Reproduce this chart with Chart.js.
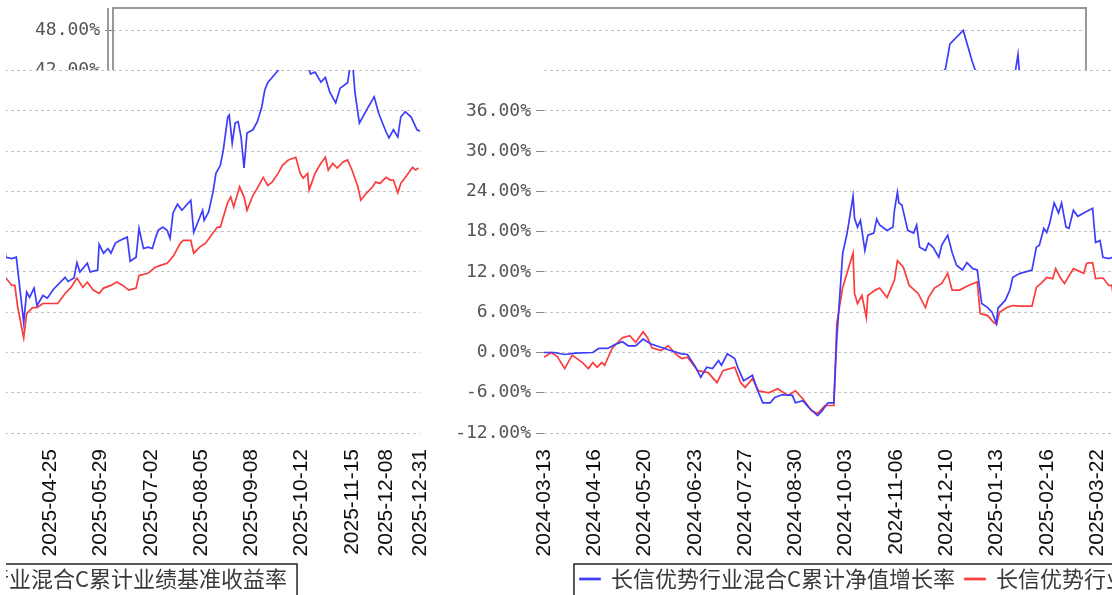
<!DOCTYPE html>
<html>
<head>
<meta charset="utf-8">
<script src="https://cdn.jsdelivr.net/npm/chart.js@4.4.1/dist/chart.umd.min.js"></script>
<style>
  html, body { margin: 0; padding: 0; background: #fff; }
  #stage { position: relative; width: 1112px; height: 595px; overflow: hidden; background: #fff; }
  .view { position: absolute; overflow: hidden; background: #fff; }
  .view canvas { position: absolute; width: 1112px; height: 600px; }
</style>
</head>
<body>
<div id="stage">
  <div class="view" style="left:0;top:0;width:1112px;height:70px">
    <canvas id="topChart" width="1112" height="600" style="left:0;top:0"></canvas>
  </div>
  <div class="view" style="left:6px;top:70px;width:424px;height:525px">
    <canvas id="leftChart" width="1112" height="600" style="left:-672px;top:-70px"></canvas>
  </div>
  <div class="view" style="left:430px;top:70px;width:682px;height:525px">
    <canvas id="rightChart" width="1112" height="600" style="left:1px;top:-70px"></canvas>
  </div>
</div>
<script>
const startDate = "2024-03-13";
const tickDates = ["2024-03-13", "2024-04-16", "2024-05-20", "2024-06-23", "2024-07-27", "2024-08-30",
  "2024-10-03", "2024-11-06", "2024-12-10", "2025-01-13", "2025-02-16", "2025-03-22", "2025-04-25",
  "2025-05-29", "2025-07-02", "2025-08-05", "2025-09-08", "2025-10-12", "2025-11-15", "2025-12-08", "2025-12-31"];
const yTicks = [-12, -6, 0, 6, 12, 18, 24, 30, 36, 42, 48];

const seriesNames = ["长信优势行业混合C累计净值增长率", "长信优势行业混合C累计业绩基准收益率"];

// days since startDate, values in %
const navDays = [0, 7, 14, 21, 33, 37, 43, 48, 53, 57, 62, 67, 72, 76, 84, 93, 97, 102, 106, 110, 114, 118, 120,
  124, 129, 131, 135, 141, 144, 148, 153, 156, 161, 168, 170, 175, 179, 185, 188, 192, 196, 198, 202, 205, 209,
  210, 212, 214, 217, 219, 223, 225, 227, 232, 236, 237, 239, 240, 242, 246, 250, 252, 254, 258, 260, 263, 267,
  269, 273, 276, 279, 283, 286, 290, 293, 296, 300, 303, 306, 307, 312, 315, 317, 322, 330, 333, 335, 338, 340,
  342, 345, 348, 350, 353, 355, 358, 361, 365, 371, 373, 376,
  378, 382, 385, 390, 392, 394, 397, 399, 403, 406, 410, 418, 420, 424, 426, 428, 433, 435, 440, 441, 444, 447,
  449, 452, 455, 460, 462, 466, 468, 471, 474, 477, 479, 481, 484, 487, 489, 491, 494, 497, 503, 505, 507, 511,
  512, 515, 518, 520, 523, 525, 528, 529, 531, 533, 535, 537, 539, 541, 545, 548, 551, 553, 555, 558, 563, 566,
  575, 581, 584, 587, 591, 594, 597, 601, 604, 609, 612, 614, 617, 622, 627, 630, 635, 637, 640, 643, 645, 648,
  652, 656, 658];
const navGrowth = [0, 0, -0.3, -0.1, 0, 0.6, 0.6, 1.2, 1.6, 1.0, 1.0, 2.0, 1.3, 1.0, 0.4, -0.2, -0.3, -2.0, -3.7,
  -2.2, -2.4, -1.2, -1.9, -0.2, -0.9, -2.2, -4.2, -3.4, -5.4, -7.5, -7.5, -6.7, -6.3, -6.4, -7.5, -7.2, -8.2,
  -9.4, -8.7, -7.5, -7.5, 2.0, 14.8, 17.8, 23.3, 20.0, 18.7, 19.7, 15.2, 17.5, 17.8, 19.9, 19.0, 18.2, 18.7, 21.2,
  23.9, 22.3, 22.0, 18.2, 17.8, 19.0, 15.7, 15.2, 16.3, 15.7, 14.2, 16.0, 17.5, 14.9, 13.0, 12.3, 13.4, 12.5,
  12.3, 7.3, 6.7, 6.0, 4.3, 6.6, 7.8, 9.3, 11.2, 11.8, 12.3, 15.7, 16.0, 18.5, 17.9, 19.3, 22.3, 20.8, 22.3,
  18.7, 18.5, 21.2, 20.3, 20.8, 21.5, 16.4, 16.7,
  14.2, 14.0, 14.2, 4.5, 9.0, 8.2, 9.6, 7.0, 8.5, 8.1, 9.4, 11.2, 10.6, 11.1, 13.4, 12.0, 13.3, 12.0, 12.3, 16.1,
  14.8, 15.5, 14.8, 16.3, 16.7, 17.2, 13.6, 14.2, 18.5, 15.5, 15.7, 15.5, 17.0, 18.2, 18.7, 18.2, 17.0, 20.8,
  22.1, 21.2, 22.7, 17.9, 19.0, 21.2, 19.7, 20.9, 23.9, 26.7, 27.9, 30.2, 35.1, 35.4, 31.2, 34.2, 34.4, 32.1,
  27.5, 32.7, 33.2, 34.4, 36.6, 39.1, 40.2, 41.0, 42.3, 46.0, 48.0, 43.4, 41.5, 41.8, 40.3, 41.0, 38.8, 37.2,
  39.4, 40.2, 44.4, 38.8, 34.2, 36.2, 38.1, 35.7, 32.9, 32.0, 33.2, 32.1, 35.1, 35.9, 35.1, 33.2, 33.0];

const benchDays = [0, 5, 9, 14, 19, 26, 30, 33, 36, 39, 41, 46, 49, 53, 58, 62, 67, 70, 73, 79, 84, 89, 93, 97,
  104, 111, 117, 121, 129, 133, 136, 141, 145, 152, 158, 165, 170, 175, 181, 185, 190, 196, 198, 202, 209, 210,
  212, 215, 218, 219, 224, 227, 232, 237, 239, 243, 247, 253, 258, 260, 264, 269, 273, 276, 281, 287, 293, 295,
  300, 304, 306, 308, 313, 317, 322, 330, 333, 337, 340, 344, 346, 349, 352, 358, 365, 367, 371, 373,
  378, 382, 384, 386, 390, 392, 396, 399, 403, 408, 413, 418, 422, 426, 430, 433, 437, 441, 444, 449, 453, 457,
  461, 466, 468, 474, 479, 484, 487, 491, 496, 498, 503, 505, 509, 513, 518, 521, 523, 525, 528, 530, 532, 536,
  539, 541, 545, 548, 552, 555, 558, 562, 565, 569, 574, 577, 579, 582, 583, 587, 591, 594, 596, 599, 602, 606,
  609, 612, 616, 618, 622, 626, 628, 631, 635, 638, 640, 643, 645, 649, 653, 655, 657];
const benchReturn = [-0.7, 0, -0.6, -2.4, -0.4, -1.5, -2.4, -1.5, -2.2, -1.5, -1.9, 0.6, 1.3, 2.2, 2.5, 1.5, 3.1,
  2.2, 0.7, 0.3, 1.0, -0.2, -0.9, -0.7, -2.7, -3.0, -4.5, -2.7, -2.2, -4.5, -5.2, -3.9, -5.7, -6.0, -5.4, -6.4,
  -5.7, -6.9, -8.7, -9.1, -7.9, -7.9, 4.3, 9.7, 14.8, 8.8, 7.3, 8.5, 5.2, 8.5, 9.3, 9.6, 8.2, 10.8, 13.7, 12.7,
  10.0, 8.8, 6.7, 8.2, 9.6, 10.3, 11.8, 9.3, 9.3, 10.0, 10.5, 5.8, 5.5, 4.5, 4.2, 6.0, 6.7, 7.0, 6.9, 6.9, 9.7,
  10.5, 11.2, 11.0, 12.5, 11.2, 10.3, 12.5, 11.8, 13.3, 13.4, 11.0,
  11.1, 10.0, 10.0, 6.7, 2.2, 5.8, 6.7, 6.7, 7.3, 7.3, 7.3, 8.8, 9.7, 11.1, 9.7, 10.5, 9.3, 8.8, 9.6, 10.0, 10.5,
  10.0, 9.3, 9.6, 11.5, 11.8, 12.7, 13.1, 13.3, 14.3, 16.3, 16.7, 16.7, 14.8, 15.7, 16.3, 17.8, 18.7, 18.7, 20.2,
  22.4, 23.2, 21.7, 24.7, 23.2, 21.2, 23.4, 24.5, 26.1, 24.9, 25.4, 26.7, 27.9, 28.7, 29.1, 26.7, 26.0, 26.7,
  24.2, 26.7, 28.2, 29.1, 27.2, 28.2, 27.5, 28.4, 28.7, 27.2, 24.7, 22.7, 23.8, 24.7, 25.4, 25.2, 26.1, 25.7,
  25.7, 23.8, 25.2, 26.4, 27.6, 27.2, 27.5];

const DAY = 86400000;
const dayOf = (s) => Math.round((Date.parse(s) - Date.parse(startDate)) / DAY);
const dateOf = (d) => new Date(Date.parse(startDate) + d * DAY).toISOString().slice(0, 10);
const tickDays = tickDates.map(dayOf);
const lastDay = tickDays[tickDays.length - 1];

const gridColor = "#c4c4c4";

const framePlugin = {
  id: "frame",
  afterDraw(chart, args, opts) {
    if (!opts.show) return;
    const { ctx, chartArea: a } = chart;
    ctx.save();
    ctx.strokeStyle = "#999";
    ctx.lineWidth = 2;
    ctx.strokeRect(a.left, a.top, a.right - a.left, a.bottom - a.top);
    ctx.beginPath();
    ctx.moveTo(a.left - 5, a.top);
    ctx.lineTo(a.left - 5, a.bottom);
    ctx.stroke();
    ctx.restore();
  },
};

const legendBox = {
  id: "legendBox",
  afterDraw(chart) {
    const boxes = chart.legend.legendHitBoxes;
    if (!boxes || !boxes.length) return;
    const first = boxes[0];
    const last = boxes[boxes.length - 1];
    const x0 = first.left - 6;
    const x1 = last.left + last.width + 10;
    const { ctx } = chart;
    ctx.save();
    ctx.strokeStyle = "#222";
    ctx.lineWidth = 1.5;
    ctx.strokeRect(x0, first.top - 4, x1 - x0, 60);
    ctx.restore();
  },
};

function makeChart(id, withFrame, labelCeiling) {
  return new Chart(document.getElementById(id), {
    type: "line",
    data: {
      datasets: [
        {
          label: seriesNames[0],
          data: navDays.map((d, i) => ({ x: d, y: navGrowth[i] })),
          borderColor: "rgb(60, 60, 250)",
          backgroundColor: "rgb(60, 60, 250)",
          borderWidth: 1.7,
          pointRadius: 0,
          tension: 0,
        },
        {
          label: seriesNames[1],
          data: benchDays.map((d, i) => ({ x: d, y: benchReturn[i] })),
          borderColor: "rgb(250, 60, 60)",
          backgroundColor: "rgb(250, 60, 60)",
          borderWidth: 1.7,
          pointRadius: 0,
          tension: 0,
        },
      ],
    },
    options: {
      responsive: false,
      animation: false,
      layout: { padding: { left: 16, top: 8, right: 26, bottom: 0 } },
      plugins: {
        tooltip: { enabled: false },
        frame: { show: withFrame },
        legend: {
          position: "bottom",
          labels: {
            boxWidth: 20,
            boxHeight: 1,
            padding: 10,
            color: "#3a3a3a",
            font: { family: "'Noto Sans CJK SC'", size: 22 },
          },
        },
      },
      scales: {
        x: {
          type: "linear",
          min: 0,
          max: lastDay,
          grid: { display: false },
          border: { display: false },
          afterBuildTicks: (scale) => {
            scale.ticks = tickDays.map((v) => ({ value: v }));
          },
          afterFit: (scale) => {
            scale.height = 125;
            scale.paddingLeft = 0;
            scale.paddingRight = 0;
          },
          ticks: {
            autoSkip: false,
            minRotation: 90,
            maxRotation: 90,
            padding: 8,
            color: "#111",
            font: { family: "'Liberation Sans'", size: 21 },
            callback: (v) => dateOf(v),
          },
        },
        y: {
          min: -12,
          max: 51.35,
          grid: {
            color: gridColor,
            lineWidth: 1,
            tickLength: 8,
            tickColor: (c) => (c.tick && c.tick.value <= labelCeiling ? "#888" : "rgba(0,0,0,0)"),
            tickBorderDash: [],
          },
          border: { display: false, dash: [3, 3] },
          afterBuildTicks: (scale) => {
            scale.ticks = yTicks.map((v) => ({ value: v }));
          },
          afterFit: (scale) => {
            scale.width = 97;
            scale.paddingTop = 0;
            scale.paddingBottom = 0;
          },
          ticks: {
            padding: 5,
            color: "#555",
            font: { family: "'DejaVu Sans Mono'", size: 18 },
            callback: (v) => (v <= labelCeiling ? v.toFixed(2) + "%" : ""),
          },
        },
      },
    },
    plugins: [framePlugin, legendBox],
  });
}

makeChart("topChart", true, 48);
makeChart("leftChart", false, 36);
makeChart("rightChart", false, 36);
</script>
</body>
</html>
